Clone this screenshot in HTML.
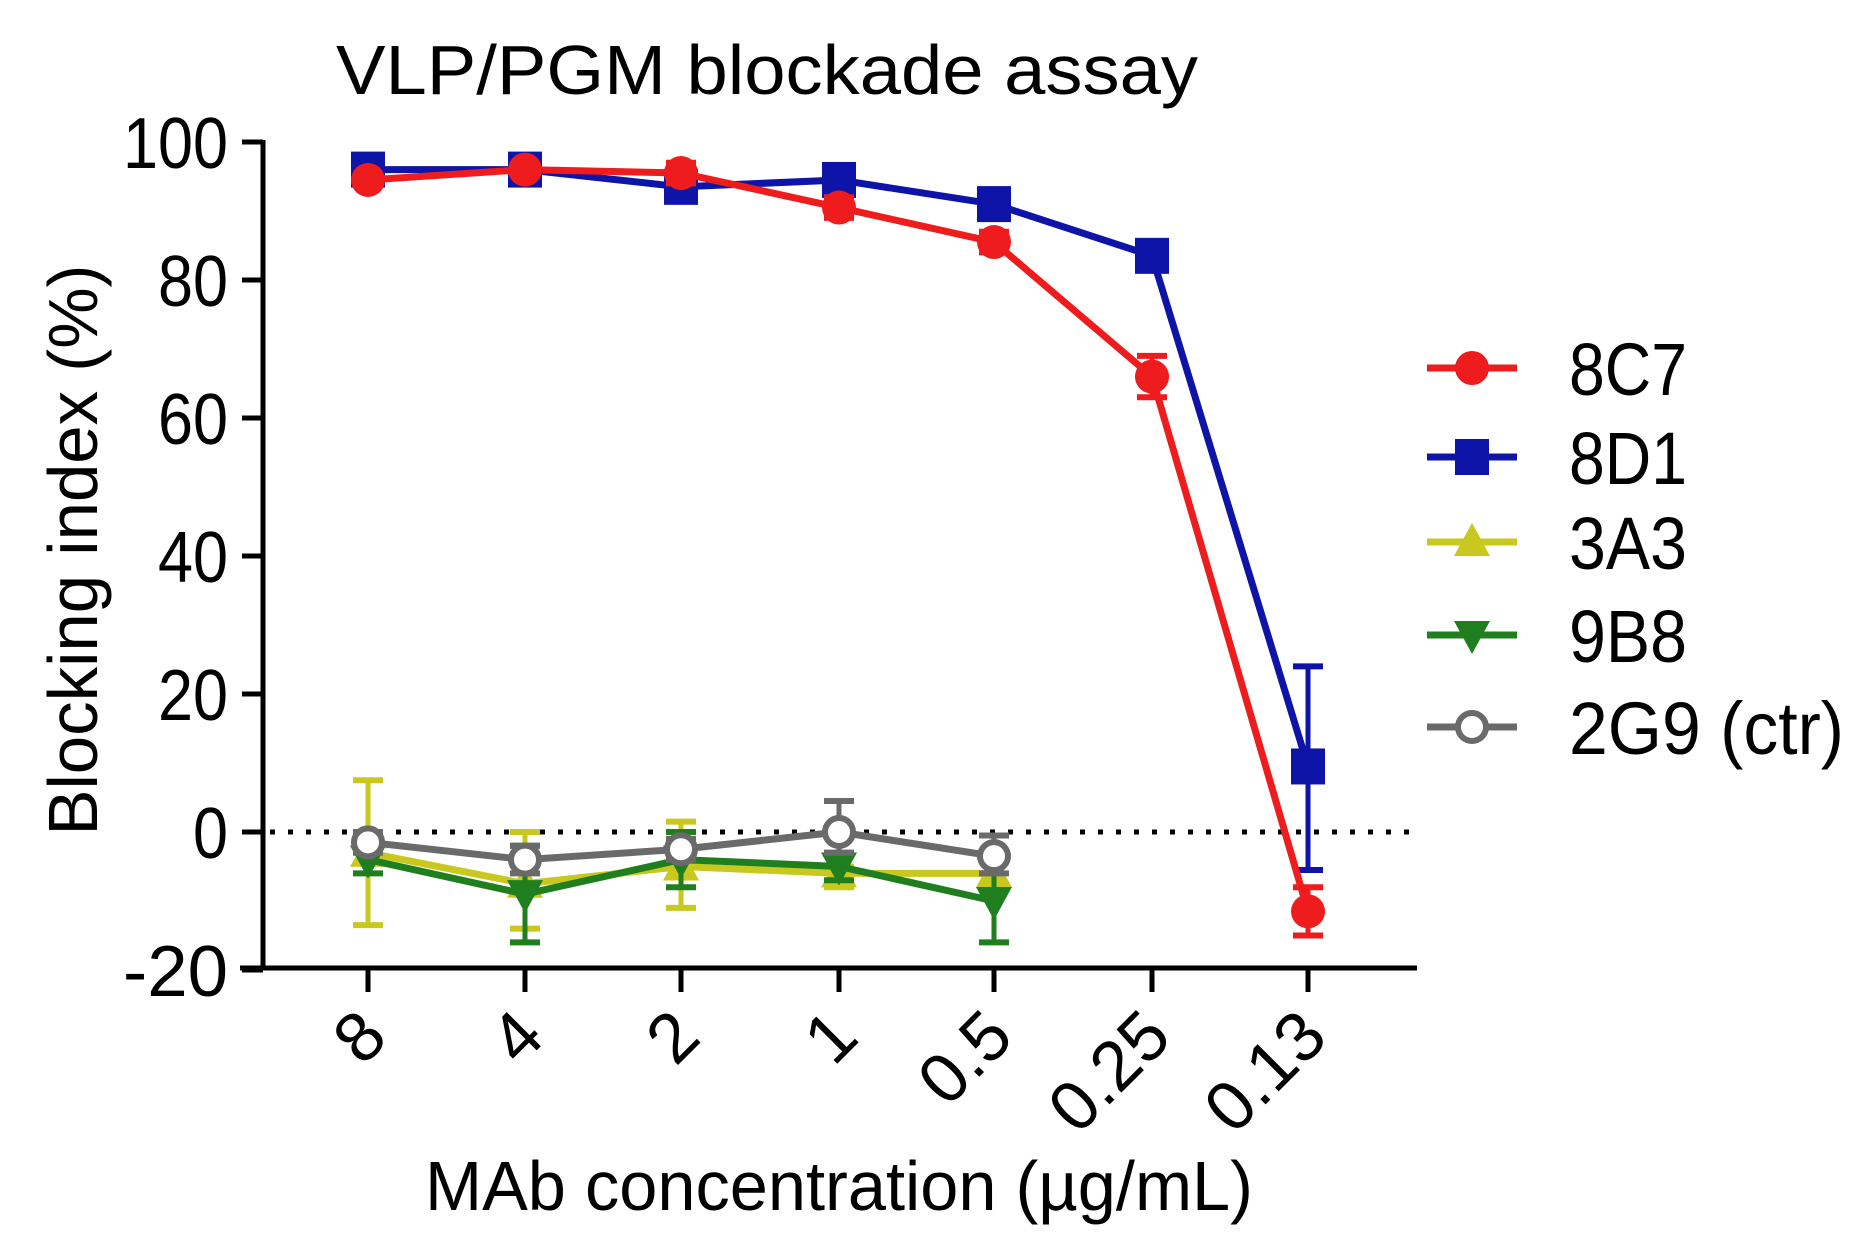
<!DOCTYPE html>
<html><head><meta charset="utf-8"><style>
html,body{margin:0;padding:0;background:#fff;}
svg{display:block;font-family:"Liberation Sans",Arial,sans-serif;}
</style></head><body>
<svg id="s" width="1863" height="1253" viewBox="0 0 1863 1253" xmlns="http://www.w3.org/2000/svg">
<rect width="1863" height="1253" fill="#fff"/>
<text x="336" y="94" font-size="70" textLength="862" lengthAdjust="spacingAndGlyphs">VLP/PGM blockade assay</text>
<text transform="translate(97,550) rotate(-90)" text-anchor="middle" font-size="70" textLength="571" lengthAdjust="spacingAndGlyphs">Blocking index (%)</text>
<text x="839" y="1210" text-anchor="middle" font-size="70" textLength="828" lengthAdjust="spacingAndGlyphs">MAb concentration (µg/mL)</text>
<g id="g"></g>
</svg>
<script>
var g=document.getElementById('g'),NS='http://www.w3.org/2000/svg';
function el(t,a,txt){var e=document.createElementNS(NS,t);for(var k in a)e.setAttribute(k,a[k]);if(txt!=null)e.textContent=txt;g.appendChild(e);return e;}
var X=[368,525,681,839,994,1152,1308];function Y(v){return 832-6.9*v;}
el('line',{x1:263,y1:140,x2:263,y2:970,stroke:'#000','stroke-width':5});
el('line',{x1:240,y1:968,x2:1417,y2:968,stroke:'#000','stroke-width':5});
[100,80,60,40,20,0,-20].forEach(function(v){var y=Y(v);el('line',{x1:242,y1:y,x2:263,y2:y,stroke:'#000','stroke-width':5});
el('text',{x:228,y:y+26,'text-anchor':'end','font-size':72,textLength:(String(v).length*35),lengthAdjust:'spacingAndGlyphs'},String(v));});
var lab=['8','4','2','1','0.5','0.25','0.13'];
X.forEach(function(x,i){el('line',{x1:x,y1:968,x2:x,y2:992,stroke:'#000','stroke-width':5});
el('text',{transform:'translate('+(x+22)+',1040) rotate(-45)','text-anchor':'end','font-size':70},lab[i]);});
el('line',{x1:270,y1:832,x2:1417,y2:832,stroke:'#000','stroke-width':5,'stroke-dasharray':'5 13'});
function marker(type,x,y,c){
 if(type=='c')el('circle',{cx:x,cy:y,r:17,fill:c});
 else if(type=='s')el('rect',{x:x-17,y:y-18,width:34,height:36,fill:c});
 else if(type=='t')el('polygon',{points:(x)+','+(y-19)+' '+(x-18)+','+(y+14)+' '+(x+18)+','+(y+14),fill:c});
 else if(type=='v')el('polygon',{points:(x)+','+(y+19)+' '+(x-18)+','+(y-14)+' '+(x+18)+','+(y-14),fill:c});
 else if(type=='o')el('circle',{cx:x,cy:y,r:14,fill:'#fff',stroke:c,'stroke-width':6});}
var S=[
 {c:'#c8c81e',m:'t',v:[-3,-7.5,-5,-6,-6],e:[[7.5,-13.5],[0,-14],[1.5,-11],[-5,-8],[-5,-7]]},
 {c:'#1f7f1f',m:'v',v:[-4,-9,-4,-5,-10],e:[[-2,-6],[-2,-16],[0,-8],[-3,-7],[-4,-16]]},
 {c:'#6a6a6a',m:'o',v:[-1.5,-4,-2.5,0,-3.5],e:[[0,-3],[-2,-6],[-1,-4],[4.5,-3],[-0.5,-6]]},
 {c:'#0f14a8',m:'s',v:[96,96,93.5,94.5,91,83.5,9.5],e:[[97,95],[97,95],[95,92],[96,93],[92.5,89.5],[85,82],[24,-5.5]]},
 {c:'#ee1c1c',m:'c',v:[94.5,96,95.5,90.5,85.5,66,-11.5],e:[[95.5,93.5],[97,95],[97,94],[92,89],[87,84],[69,63],[-8,-15]]}
];
S.forEach(function(s){
 s.e.forEach(function(e,i){var x=X[i];if(Math.abs(e[0]-e[1])<3)return;
  el('line',{x1:x,y1:Y(e[0]),x2:x,y2:Y(e[1]),stroke:s.c,'stroke-width':5});
  [e[0],e[1]].forEach(function(v){el('line',{x1:x-15,y1:Y(v),x2:x+15,y2:Y(v),stroke:s.c,'stroke-width':6});});});
 el('polyline',{points:s.v.map(function(v,i){return X[i]+','+Y(v);}).join(' '),fill:'none',stroke:s.c,'stroke-width':7,'stroke-linejoin':'round'});
 s.v.forEach(function(v,i){marker(s.m,X[i],Y(v),s.c);});
});
var L=[['8C7','#ee1c1c','c',368],['8D1','#0f14a8','s',457],['3A3','#c8c81e','t',542],['9B8','#1f7f1f','v',635],['2G9 (ctr)','#6a6a6a','o',727]];
L.forEach(function(l){el('line',{x1:1427,y1:l[3],x2:1517,y2:l[3],stroke:l[1],'stroke-width':7});marker(l[2],1472,l[3],l[1]);
 el('text',{x:1569,y:l[3]+27,'font-size':74,textLength:(l[0].length>3?275:118),lengthAdjust:'spacingAndGlyphs'},l[0]);});
</script>
</body></html>
